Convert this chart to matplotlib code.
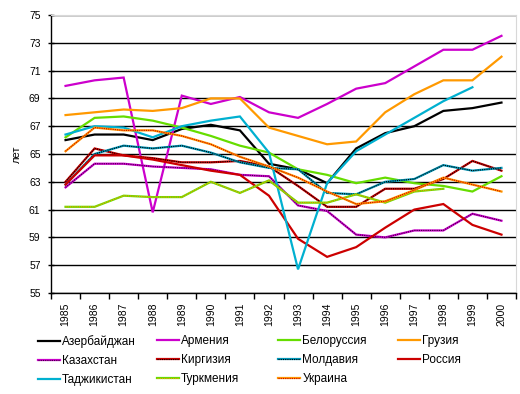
import matplotlib
matplotlib.use("Agg")
import matplotlib.pyplot as plt
from matplotlib.legend_handler import HandlerTuple
import numpy as np

plt.rcParams['font.family'] = ['Liberation Sans', 'DejaVu Sans']

years = list(range(1985, 2001))
nan = np.nan

# ожидаемая продолжительность жизни, лет
azerbaijan = [66.0, 66.4, 66.4, 66.0, 66.8, 67.1, 66.7, 64.3, 63.9, 62.9, 65.4, 66.5, 67.0, 68.1, 68.3, 68.7]
armenia = [69.9, 70.3, 70.5, 60.8, 69.2, 68.6, 69.1, 68.0, 67.6, 68.6, 69.7, 70.1, 71.3, 72.5, 72.5, 73.5]
belarus = [66.2, 67.6, 67.7, 67.4, 66.9, 66.3, 65.6, 65.1, 63.9, 63.5, 62.9, 63.3, 62.9, 62.7, 62.3, 63.4]
georgia = [67.8, 68.0, 68.2, 68.1, 68.3, 69.0, 69.0, 66.9, 66.3, 65.7, 65.9, 68.0, 69.3, 70.3, 70.3, 72.0]
kazakhstan = [62.6, 64.3, 64.3, 64.1, 64.0, 63.9, 63.5, 63.4, 61.3, 60.9, 59.2, 59.0, 59.5, 59.5, 60.7, 60.2]
kyrgyzstan = [63.0, 65.4, 64.9, 64.7, 64.4, 64.4, 64.5, 64.1, 62.7, 61.2, 61.2, 62.5, 62.5, 63.2, 64.5, 63.8]
moldova = [62.8, 65.0, 65.6, 65.4, 65.6, 65.1, 64.4, 64.0, 63.9, 62.2, 62.1, 63.0, 63.2, 64.2, 63.8, 64.0]
russia = [62.8, 64.9, 64.9, 64.6, 64.2, 63.8, 63.5, 62.0, 58.9, 57.6, 58.3, 59.7, 61.0, 61.4, 59.9, 59.2]
tajikistan = [66.4, 67.0, 66.9, 66.2, 67.0, 67.4, 67.7, 65.1, 56.7, 62.9, 65.2, 66.4, 67.6, 68.8, 69.8, nan]
turkmenistan = [61.2, 61.2, 62.0, 61.9, 61.9, 63.0, 62.2, 63.1, 61.5, 61.5, 62.1, 61.5, 62.3, 62.5, nan, nan]
ukraine = [65.2, 66.9, 66.7, 66.7, 66.3, 65.7, 64.8, 64.1, 63.3, 62.3, 61.4, 61.6, 62.4, 63.3, 62.8, 62.3]

# (название, данные, цвет линии, цвет точек или None)
series = [
    ("Азербайджан", azerbaijan, "#000000", None),
    ("Армения", armenia, "#CC00CC", None),
    ("Белоруссия", belarus, "#66DD00", None),
    ("Грузия", georgia, "#FF9900", None),
    ("Казахстан", kazakhstan, "#CC00CC", "#400040"),
    ("Киргизия", kyrgyzstan, "#CC0000", "#000000"),
    ("Молдавия", moldova, "#0099BB", "#000000"),
    ("Россия", russia, "#CC0000", None),
    ("Таджикистан", tajikistan, "#00B0D0", None),
    ("Туркмения", turkmenistan, "#66DD00", "#FF9900"),
    ("Украина", ukraine, "#FF9900", "#CC0000"),
]

fig = plt.figure(figsize=(5.2, 3.94), dpi=100)
ax = fig.add_axes([51 / 520, 1 - 293 / 394, 465 / 520, 278 / 394])

x = np.arange(len(years))
handles = []
for name, vals, col, dots in series:
    l1, = ax.plot(x, vals, color=col, lw=1.6, solid_joinstyle='miter')
    if dots:
        l2, = ax.plot(x, vals, color=dots, lw=0.8, linestyle=(0, (1, 1)))
        handles.append(((l1, l2), name))
    else:
        handles.append(((l1,), name))

ax.set_xlim(-0.5, len(years) - 0.5)
ax.set_ylim(55, 75)
ax.set_yticks(np.arange(55, 76, 2))
ax.set_xticks(x)
ax.set_xticklabels([str(y) for y in years], rotation=90)
ax.set_xticks(np.arange(-0.5, len(years), 1), minor=True)
ax.tick_params(axis='x', which='major', length=0, pad=7, labelsize=7.5)
ax.tick_params(axis='x', which='minor', length=4, width=1, direction='out')
ax.tick_params(axis='y', length=5, width=1, direction='inout', pad=5, labelsize=7.5)

ax.set_axisbelow(True)
ax.yaxis.grid(True, color='black', lw=1)
ax.spines['top'].set_color('#d8d8d8')
ax.spines['right'].set_color('#d8d8d8')
ax.spines['left'].set_linewidth(1)
ax.spines['bottom'].set_linewidth(1)
ax.set_ylabel("лет", fontsize=8, labelpad=5)

# легенда: четыре колонки с равным шагом
col_x = [38, 157, 278, 398]
for c in range(4):
    part = handles[c::4]
    leg = fig.legend([h for h, _ in part], [n for _, n in part],
                     handler_map={tuple: HandlerTuple(ndivide=1)},
                     loc='upper left', bbox_to_anchor=(col_x[c] / 520, 1 - 335 / 394),
                     frameon=False, fontsize=8.5, handlelength=1.9, handletextpad=0.15,
                     labelspacing=0.6, borderpad=0, borderaxespad=0)

fig.savefig("out.png", dpi=100)
